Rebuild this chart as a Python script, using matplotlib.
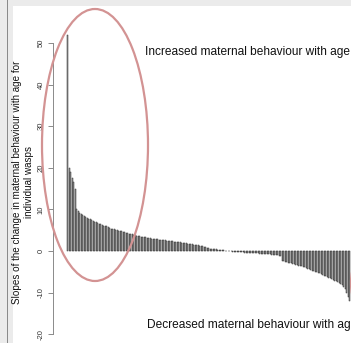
import matplotlib
matplotlib.use("Agg")
import matplotlib.pyplot as plt
from matplotlib.patches import Ellipse, Rectangle
import numpy as np

plt.rcParams['font.family'] = ['Liberation Sans', 'DejaVu Sans']

# slopes per wasp, sorted from largest to smallest
slopes = [
    52, 20, 19, 17.5, 16.5, 15, 10, 9.6, 9.2, 8.9,
    8.6, 8.3, 8.1, 7.9, 7.7, 7.6, 7.4, 7.2, 7.0, 6.9,
    6.7, 6.6, 6.4, 6.3, 6.1, 6.0, 5.9, 5.7, 5.5, 5.4,
    5.3, 5.2, 5.1, 5.0, 4.9, 4.8, 4.7, 4.6, 4.5, 4.4,
    4.3, 4.2, 4.1, 4.0, 3.9, 3.8, 3.7, 3.6, 3.5, 3.45,
    3.4, 3.3, 3.25, 3.2, 3.1, 3.05, 3.0, 2.95, 2.9, 2.85,
    2.8, 2.75, 2.7, 2.65, 2.6, 2.55, 2.5, 2.45, 2.4, 2.35,
    2.3, 2.25, 2.2, 2.15, 2.1, 2.05, 2.0, 1.95, 1.9, 1.85,
    1.8, 1.75, 1.7, 1.6, 1.55, 1.5, 1.45, 1.4, 1.3, 1.2,
    1.1, 1.0, 0.9, 0.8, 0.7, 0.6, 0.55, 0.5, 0.45, 0.4,
    0.35, 0.3, 0.25, 0.2, 0.15, 0.1, 0.05, 0.0, -0.05, -0.1,
    -0.15, -0.2, -0.22, -0.25, -0.28, -0.3, -0.32, -0.35, -0.38, -0.4,
    -0.42, -0.45, -0.48, -0.5, -0.52, -0.55, -0.58, -0.6, -0.62, -0.65,
    -0.68, -0.7, -0.72, -0.75, -0.78, -0.8, -0.85, -0.9, -0.95, -1.0,
    -1.05, -1.1, -1.2, -2.4, -2.5, -2.6, -2.7, -2.8, -2.9, -3.0,
    -3.1, -3.2, -3.3, -3.4, -3.5, -3.6, -3.7, -3.8, -3.9, -4.1,
    -4.3, -4.4, -4.6, -4.7, -4.9, -5.0, -5.1, -5.3, -5.4, -5.6,
    -5.8, -5.9, -6.0, -6.2, -6.4, -6.6, -6.8, -7.0, -7.2, -7.3,
    -7.5, -7.7, -7.9, -8.2, -8.6, -9.2, -10.0, -11.0, -12.0,
]
yticks = [-20, -10, 0, 10, 20, 30, 40, 50]
ylabel = "Slopes of the change in maternal behaviour with age for\nindividual wasps"
label_up = "Increased maternal behaviour with age"
label_down = "Decreased maternal behaviour with age"

W, H = 351, 343
fig = plt.figure(figsize=(W / 100, H / 100), dpi=100)

# grey frame strips (cropped screenshot look)
bg = fig.add_axes([0, 0, 1, 1], zorder=0)
bg.set_xlim(0, W)
bg.set_ylim(H, 0)
bg.axis('off')
bg.add_patch(Rectangle((0, 0), W, 6, color='#ebebeb', lw=0))
bg.add_patch(Rectangle((0, 0), 12.5, H, color='#ebebeb', lw=0))
bg.add_patch(Rectangle((6.8, 0), 1.6, H, color='#8a8a8a', lw=0))

# main bar plot
x0_px, pitch, zero_px, px_per_unit, spine_px = 67.75, 1.5, 251, 4.16, 53
ax = fig.add_axes([spine_px / W, 0, 1 - spine_px / W, 1], zorder=1)
ax.patch.set_alpha(0)
ax.set_xlim((spine_px - x0_px) / pitch, (W - x0_px) / pitch)
ax.set_ylim((zero_px - H) / px_per_unit, zero_px / px_per_unit)
ax.bar(np.arange(len(slopes)), slopes, width=0.8, color='#a8a8a8',
       edgecolor='#2a2a2a', linewidth=0.35)

for s in ['top', 'right', 'bottom']:
    ax.spines[s].set_visible(False)
ax.spines['left'].set_bounds(-20, 50)
ax.spines['left'].set_color('#8a8a8a')
ax.spines['left'].set_linewidth(0.7)
ax.xaxis.set_visible(False)
ax.set_yticks(yticks)
ax.set_yticklabels([str(t) for t in yticks], rotation=90, va='center')
ax.tick_params(axis='y', direction='out', length=3.6, width=0.7,
               color='#8a8a8a', labelsize=5.5, labelcolor='#333333', pad=2.5)

# annotations on top
ov = fig.add_axes([0, 0, 1, 1], zorder=2)
ov.set_xlim(0, W)
ov.set_ylim(H, 0)
ov.axis('off')
ov.add_patch(Ellipse((95, 145), 106, 272, fill=False, edgecolor='#d39393', lw=1.6))
ov.add_patch(Ellipse((424, 283), 146, 130, fill=False, edgecolor='#d39393', lw=1.6))
ov.text(145, 52, label_up, fontsize=8.6, va='center', ha='left', color='#111111')
ov.text(147, 325, label_down, fontsize=8.6, va='center', ha='left', color='#111111')
ov.text(23, 182, ylabel, fontsize=7.1, rotation=90, ha='center', va='center',
        multialignment='center', color='#111111')

fig.savefig('out.png', dpi=100)
